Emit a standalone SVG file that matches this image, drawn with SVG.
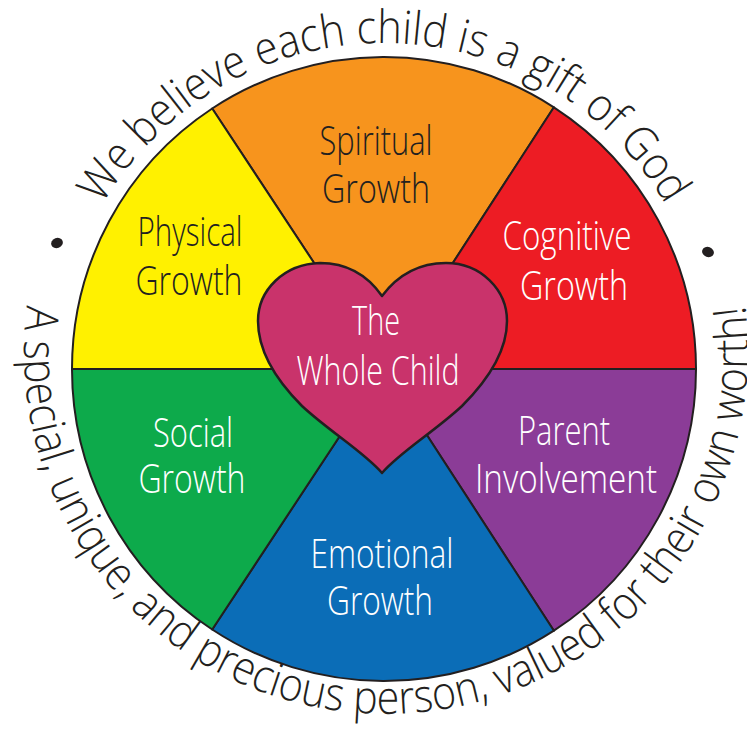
<svg xmlns="http://www.w3.org/2000/svg" xmlns:xlink="http://www.w3.org/1999/xlink" width="747" height="740" viewBox="0 0 747 740">
  <style>
    .sector { stroke: #231f20; stroke-width: 2; stroke-linejoin: round; }
    .lbl { font-family: "Open Sans", "Liberation Sans", sans-serif; font-weight: 300; font-size: 40px; text-anchor: middle; }
    .dark { fill: #231f20; }
    .light { fill: #ffffff; }
    .arc { font-family: "Open Sans", "Liberation Sans", sans-serif; font-weight: 300; font-size: 46px; fill: #231f20; }
  </style>
  <defs>
    <path id="topArc" d="M 101.7 206 A 326 326 0 0 1 666.3 206"/>
    <path id="botArc" d="M 27.5 301.6 A 362 362 0 1 0 744.5 301.6"/>
  </defs>
  <rect width="747" height="740" fill="#ffffff"/>

  <g id="spiritual">
    <path class="sector" fill="#f7941d" d="M384,369 L212.2,108.5 A312,312 0 0 1 553.9,107.3 Z"/>
    <text class="lbl dark"><tspan x="376" y="155" textLength="113" lengthAdjust="spacingAndGlyphs">Spiritual</tspan><tspan x="376" y="203" textLength="108" lengthAdjust="spacingAndGlyphs">Growth</tspan></text>
  </g>
  <g id="cognitive">
    <path class="sector" fill="#ed1c24" d="M384,369 L553.9,107.3 A312,312 0 0 1 696,369 Z"/>
    <text class="lbl light"><tspan x="567" y="250" textLength="129" lengthAdjust="spacingAndGlyphs">Cognitive</tspan><tspan x="574" y="300" textLength="108" lengthAdjust="spacingAndGlyphs">Growth</tspan></text>
  </g>
  <g id="parent">
    <path class="sector" fill="#8b3c97" d="M384,369 L696,369 A312,312 0 0 1 553.9,630.7 Z"/>
    <text class="lbl light"><tspan x="564" y="445" textLength="92" lengthAdjust="spacingAndGlyphs">Parent</tspan><tspan x="566" y="493" textLength="182" lengthAdjust="spacingAndGlyphs">Involvement</tspan></text>
  </g>
  <g id="emotional">
    <path class="sector" fill="#0b6db7" d="M384,369 L553.9,630.7 A312,312 0 0 1 212.2,629.5 Z"/>
    <text class="lbl light"><tspan x="382" y="568" textLength="143" lengthAdjust="spacingAndGlyphs">Emotional</tspan><tspan x="380" y="615" textLength="106" lengthAdjust="spacingAndGlyphs">Growth</tspan></text>
  </g>
  <g id="social">
    <path class="sector" fill="#0daa4b" d="M384,369 L212.2,629.5 A312,312 0 0 1 72,369 Z"/>
    <text class="lbl light"><tspan x="193" y="447" textLength="80" lengthAdjust="spacingAndGlyphs">Social</tspan><tspan x="192" y="493" textLength="107" lengthAdjust="spacingAndGlyphs">Growth</tspan></text>
  </g>
  <g id="physical">
    <path class="sector" fill="#fff100" d="M384,369 L72,369 A312,312 0 0 1 212.2,108.5 Z"/>
    <text class="lbl dark"><tspan x="190" y="246" textLength="105" lengthAdjust="spacingAndGlyphs">Physical</tspan><tspan x="189" y="295" textLength="107" lengthAdjust="spacingAndGlyphs">Growth</tspan></text>
  </g>

  <g id="whole-child">
    <path fill="#c9336b" stroke="#231f20" stroke-width="2.5" stroke-linejoin="round" d="M 382 296 C 368 276, 348 263, 320 263 C 284 264, 258 290, 258 321 C 258 352, 276 380, 302 406 C 330 432, 364 452, 382 473 C 400 452, 434 432, 462 406 C 488 380, 507 352, 507 321 C 507 290, 481 263, 446 263 C 418 263, 397 276, 382 296 Z"/>
    <text class="lbl light"><tspan x="376" y="335" textLength="48" lengthAdjust="spacingAndGlyphs">The</tspan><tspan x="378" y="385" textLength="163" lengthAdjust="spacingAndGlyphs">Whole Child</tspan></text>
  </g>

  <g id="motto-top">
    <text class="arc"><textPath xlink:href="#topArc" href="#topArc" startOffset="50%" text-anchor="middle" textLength="680" lengthAdjust="spacingAndGlyphs">We believe each child is a gift of God</textPath></text>
  </g>
  <g id="motto-bottom">
    <text class="arc"><textPath xlink:href="#botArc" href="#botArc" startOffset="50%" text-anchor="middle" textLength="1230" lengthAdjust="spacingAndGlyphs">A special, unique, and precious person, valued for their own worth!</textPath></text>
  </g>

  <g id="dots" fill="#231f20">
    <ellipse cx="57" cy="243" rx="6" ry="5" transform="rotate(-20 57 243)"/>
    <ellipse cx="708" cy="252" rx="6" ry="5" transform="rotate(20 708 252)"/>
  </g>
</svg>
